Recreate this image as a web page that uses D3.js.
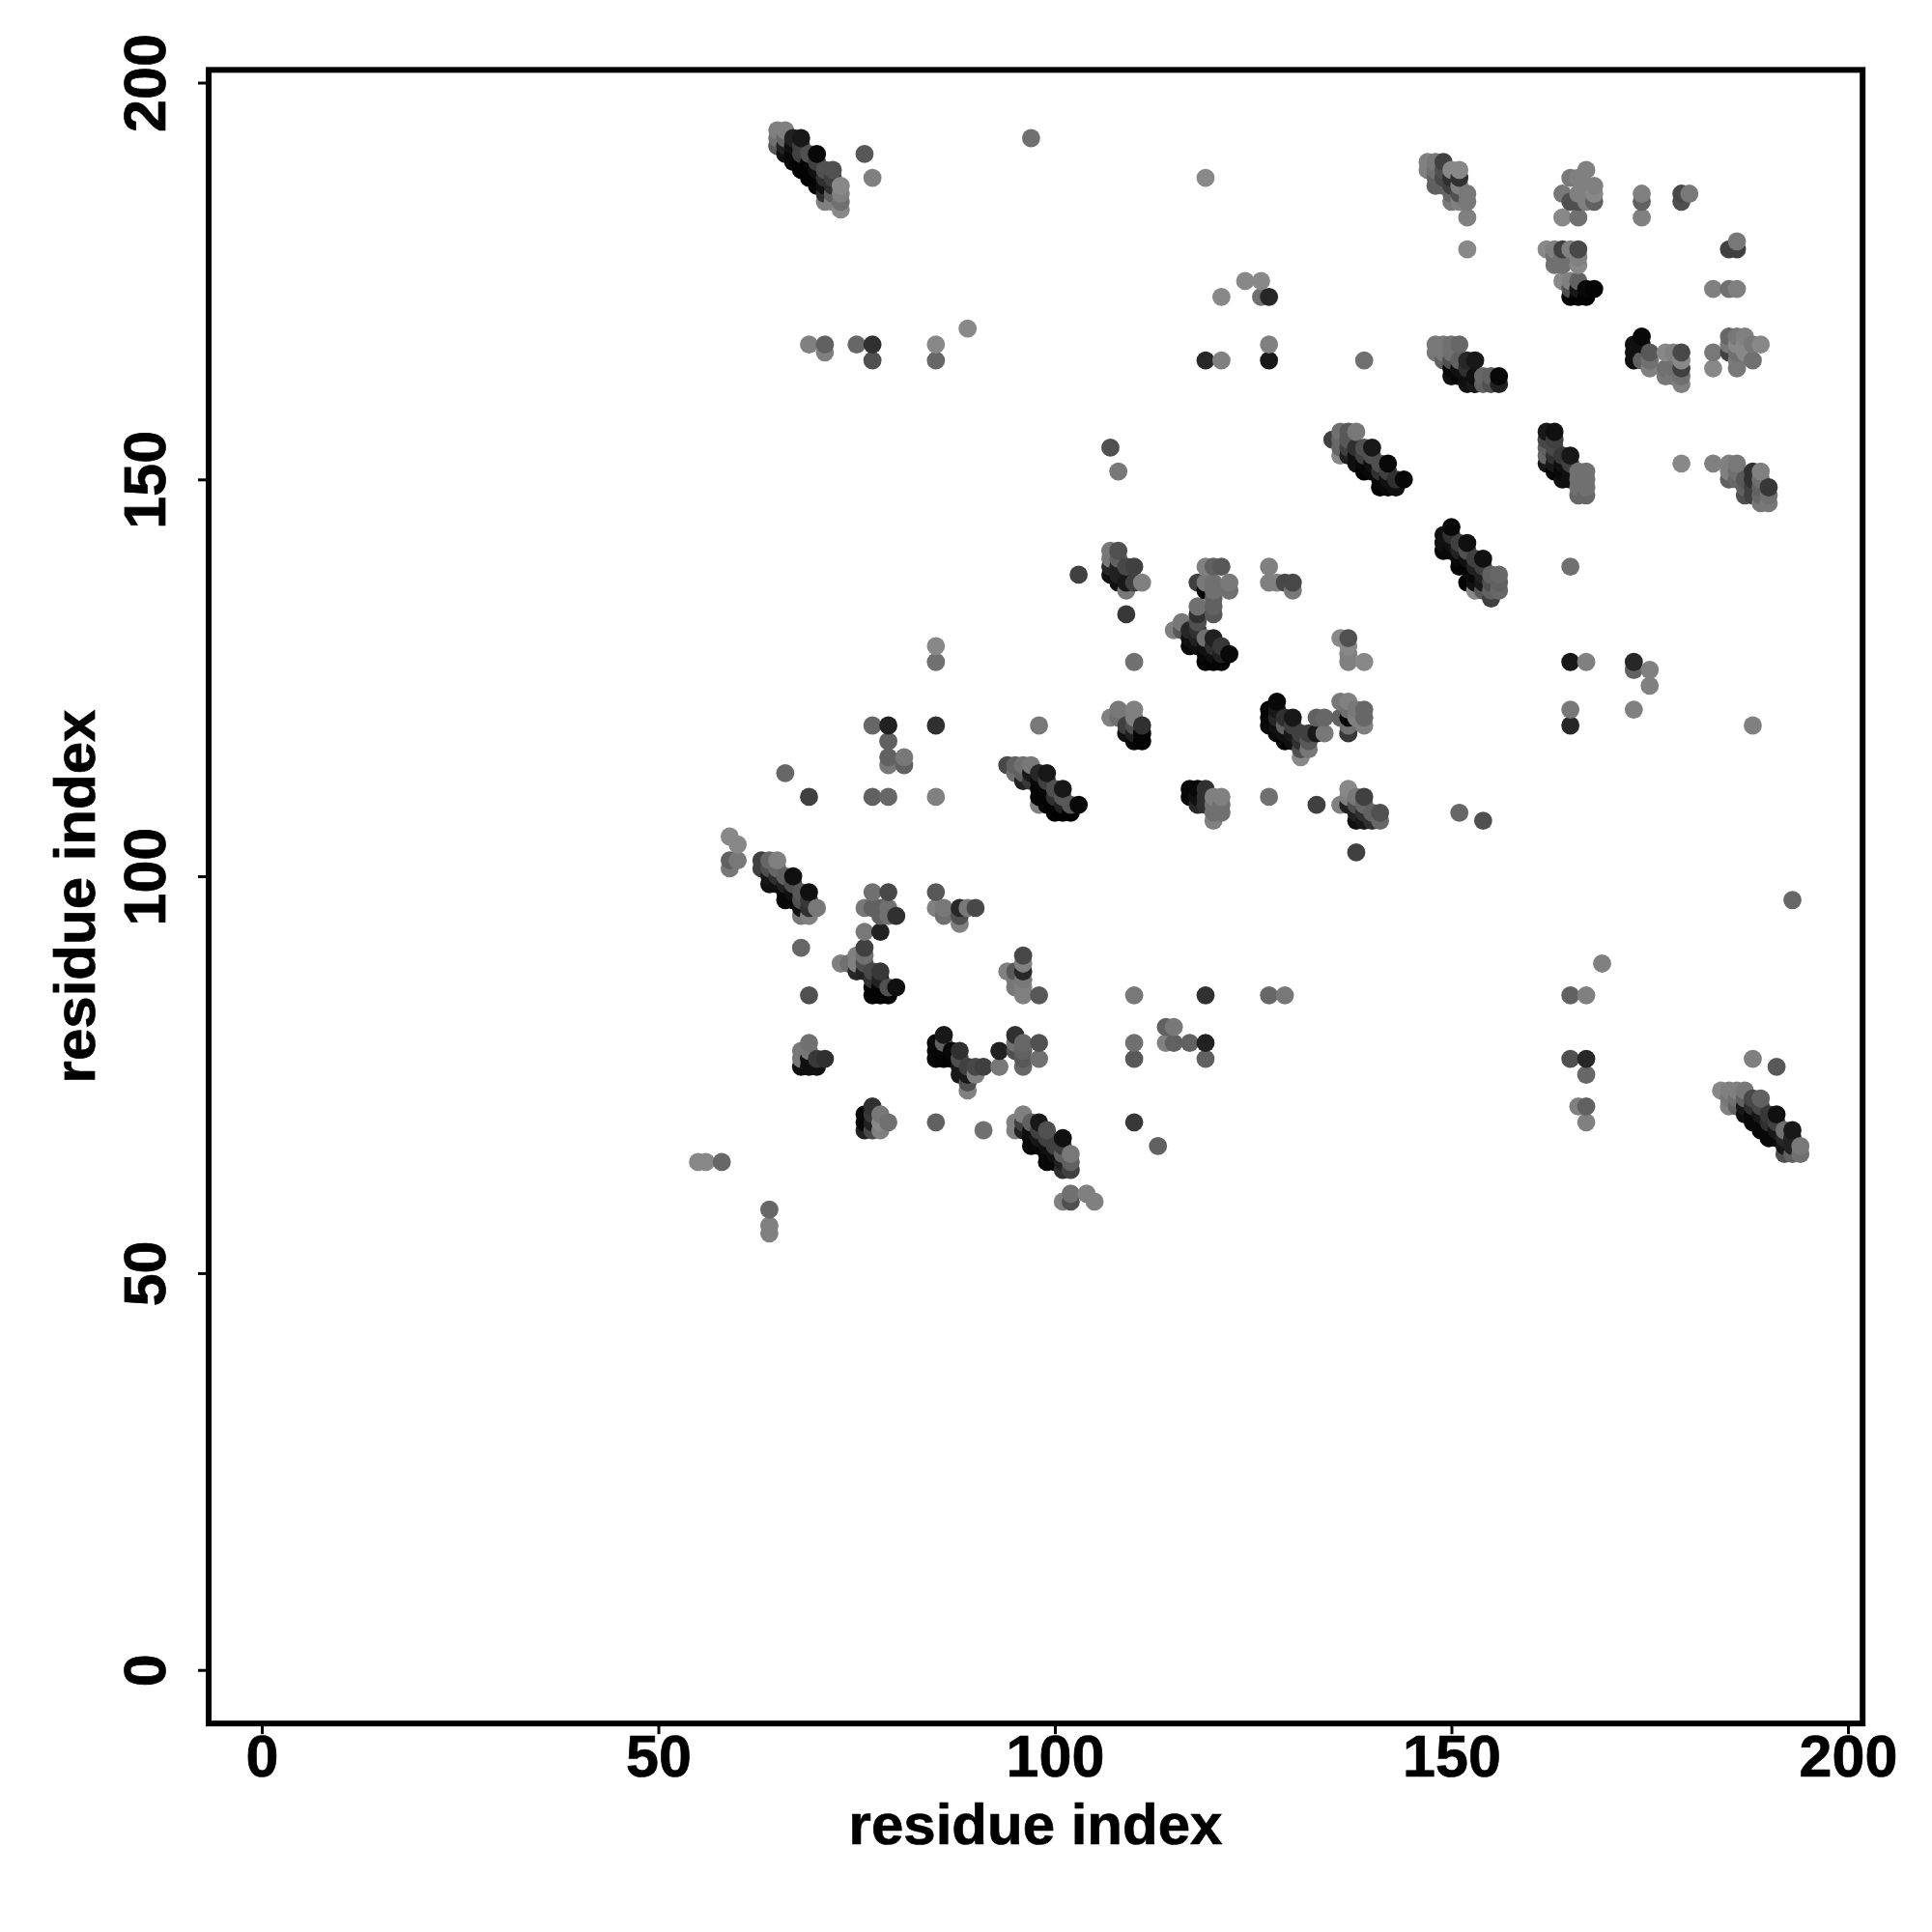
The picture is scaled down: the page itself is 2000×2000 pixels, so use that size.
<!DOCTYPE html>
<html>
<head>
<meta charset="utf-8">
<script src="https://cdn.jsdelivr.net/npm/d3@7"></script>
<style>
  html, body { margin: 0; padding: 0; background: #fff; }
  svg { display: block; }
  text { font-family: "Liberation Sans", Arial, sans-serif; font-weight: bold; fill: #000; stroke: #000; stroke-width: 0.7px; }
</style>
</head>
<body>
<script>
// contacts as [residue i, residue j, score 0-100], grouped by where they sit on the map
const axisTicks = [0, 50, 100, 150, 200];
const axisTitle = "residue index";

const strandTop = [[65,194,6],[66,194,6],[65,193,18],[66,193,24],[65,192,35],[66,192,76],[66,191,88],[67,193,76],[68,193,82],[67,192,88],[67,191,94],[67,190,94],[68,192,53],[68,191,53],[68,190,97],[68,189,97],[69,191,41],[70,191,94],[69,190,97],[69,189,97],[69,188,97],[70,190,53],[70,189,88],[70,188,97],[70,187,94],[71,189,41],[72,189,41],[71,188,65],[71,187,88],[71,186,65],[71,185,6],[72,185,6],[72,186,29],[72,187,65],[72,188,53],[73,187,0],[73,186,6],[73,185,18],[73,184,0]];
const topSingles = [[97,193,18],[76,191,35],[77,188,6],[119,188,0],[69,167,6],[71,167,29],[75,167,24],[77,167,65],[85,167,0],[127,167,6],[71,166,6],[77,165,41],[85,165,24],[119,165,71],[121,165,6],[127,165,82],[89,169,0],[121,173,0],[126,173,18],[127,173,71],[124,175,0],[126,175,0],[107,154,41],[108,151,12],[103,138,53],[139,165,18],[165,139,18]];

const blockA = [[147,190,6],[147,189,6],[148,190,12],[148,189,18],[148,188,29],[148,187,29],[149,190,53],[149,189,41],[149,188,47],[149,187,29],[150,189,0],[150,188,65],[150,187,53],[150,186,24],[150,185,12],[151,189,0],[151,188,65],[151,187,6],[151,186,41],[151,185,6],[152,186,12],[152,185,12],[152,183,6],[152,179,0]];
const blockB = [[167,189,6],[165,188,12],[166,188,6],[168,187,6],[167,187,6],[164,186,12],[165,185,41],[166,186,6],[168,186,0],[168,185,29],[166,185,41],[167,185,6],[164,183,0],[166,183,18],[174,186,6],[174,185,29],[174,183,6],[179,186,47],[179,185,41],[180,186,12]];
const blockC = [[162,179,0],[163,179,6],[164,179,53],[165,179,6],[166,179,47],[163,178,18],[164,178,18],[166,178,6],[163,177,18],[164,177,18],[166,177,0],[164,175,0],[165,175,6],[166,175,29],[165,174,41],[166,174,82],[167,174,94],[168,174,97],[165,173,97],[166,173,97],[167,173,97],[183,174,6],[185,174,18],[186,174,6],[186,180,12],[185,179,53],[186,179,53]];
const blockD = [[148,167,12],[149,167,12],[150,167,18],[151,167,24],[148,166,12],[149,166,12],[150,166,18],[149,165,29],[150,165,41],[151,165,29],[150,164,94],[151,164,88],[152,165,71],[153,165,82],[152,164,65],[150,163,88],[151,163,94],[152,163,88],[153,163,88],[152,162,88],[153,162,82],[154,163,24],[154,162,29],[155,163,29],[155,162,41],[156,163,94],[156,162,76]];
const blockE = [[174,168,94],[173,167,88],[173,166,88],[173,165,88],[174,167,88],[174,165,29],[175,166,35],[175,165,18],[175,164,6],[177,166,0],[178,166,6],[179,166,47],[177,164,18],[177,163,12],[178,164,18],[178,163,12],[179,165,0],[179,164,53],[179,163,18],[179,162,6],[183,166,12],[183,164,0],[185,168,24],[186,168,12],[187,168,6],[185,167,12],[186,167,0],[187,167,0],[188,167,12],[189,167,0],[185,166,53],[186,166,18],[187,166,0],[186,165,12],[186,164,12],[188,165,18]];

const strandG = [[135,155,53],[136,156,18],[137,156,35],[138,156,12],[136,155,24],[137,155,35],[136,154,24],[136,153,0],[137,154,53],[137,153,76],[138,154,65],[138,153,88],[138,152,88],[139,154,41],[139,153,53],[139,152,94],[139,151,97],[140,154,82],[140,153,41],[140,152,88],[140,151,94],[141,152,41],[141,151,65],[141,150,94],[141,149,97],[142,152,94],[142,151,53],[142,150,88],[142,149,94],[143,150,65],[143,149,88],[144,150,94]];
const blockH = [[162,156,82],[163,156,88],[162,155,47],[162,154,29],[162,153,24],[162,152,82],[163,155,53],[163,154,47],[163,153,65],[163,152,82],[163,151,97],[164,153,59],[165,153,82],[164,152,88],[164,151,94],[164,150,88],[165,152,53],[165,151,88],[165,150,88],[166,151,18],[167,151,18],[166,150,18],[167,150,18],[166,149,18],[167,149,18],[166,148,24],[167,148,24]];
const blockI = [[179,152,0],[183,152,6],[185,152,6],[186,152,12],[185,151,6],[186,151,18],[185,150,29],[186,150,24],[187,150,35],[187,149,29],[187,148,41],[188,151,65],[189,151,6],[188,150,65],[189,150,18],[188,149,53],[189,149,29],[188,148,53],[189,148,24],[190,149,59],[189,147,12],[190,148,18],[190,147,12]];
const strandJ = [[149,143,88],[149,142,88],[149,141,94],[150,144,94],[150,143,65],[150,142,88],[150,141,94],[151,142,53],[151,141,76],[151,140,94],[151,139,97],[152,142,88],[152,141,41],[152,140,88],[152,139,97],[152,137,97],[153,140,53],[153,139,76],[153,138,94],[153,136,0],[153,137,88],[154,140,88],[154,139,53],[154,138,76],[154,137,82],[154,136,35],[155,138,29],[155,137,41],[155,136,29],[155,135,53],[156,138,24],[156,137,29],[156,136,24]];

const blockK = [[107,141,12],[108,141,41],[107,140,12],[107,139,71],[107,138,88],[108,140,29],[108,139,76],[108,138,76],[108,137,88],[109,139,47],[110,139,53],[109,137,82],[110,137,53],[111,137,6],[109,136,12],[109,133,59],[110,127,18]];
const blockL = [[119,139,6],[120,139,29],[121,139,35],[118,137,53],[119,137,12],[119,136,97],[120,137,18],[122,137,12],[120,136,18],[120,135,29],[122,136,18],[127,139,6],[127,137,6],[128,137,6],[129,137,47],[130,137,47],[130,136,12],[118,134,18],[120,134,29],[118,133,65],[120,133,35],[118,132,41],[116,132,12],[115,131,6],[116,131,35],[117,131,71],[117,130,88],[118,131,65],[118,130,76],[118,129,88],[117,129,94],[119,130,18],[119,129,88],[119,128,94],[119,127,97],[120,130,76],[120,129,65],[120,128,88],[120,127,97],[121,129,59],[121,128,76],[121,127,97],[122,128,94]];
const blockM = [[85,129,0],[85,127,18],[77,119,24],[79,119,76],[85,119,65],[98,119,12],[79,117,29],[79,115,29],[79,114,12],[81,115,12],[81,114,29],[66,113,24],[69,110,53],[77,110,29],[79,110,24],[85,110,6]];
const blockN = [[107,120,6],[108,121,12],[110,121,6],[108,120,18],[110,120,6],[109,119,53],[110,119,41],[111,119,65],[109,118,88],[110,118,76],[111,118,97],[110,117,94],[111,117,97]];
const strandO = [[94,114,47],[95,114,29],[96,114,18],[97,114,12],[95,113,18],[96,113,29],[97,113,82],[98,113,71],[99,113,82],[96,112,76],[97,112,59],[98,112,94],[98,111,97],[99,112,53],[99,111,94],[100,111,41],[101,111,82],[98,110,97],[99,110,97],[100,110,65],[101,110,35],[98,109,6],[99,109,97],[100,109,97],[101,109,76],[102,109,35],[103,109,94],[100,108,100],[101,108,100],[102,108,100]];
const blockP = [[117,111,94],[118,111,94],[119,111,65],[117,110,94],[118,110,88],[119,110,65],[120,110,6],[121,110,6],[118,109,71],[119,109,65],[120,109,18],[121,109,18],[120,108,18],[121,108,18],[120,107,6],[127,110,18]];
const blockQ = [[127,121,97],[127,120,94],[127,119,94],[128,122,94],[128,121,82],[128,120,71],[128,119,88],[128,118,94],[129,120,65],[129,119,29],[129,118,88],[129,117,97],[130,120,82],[130,119,53],[130,118,82],[130,117,88],[131,118,53],[131,117,65],[131,116,41],[131,115,0],[132,118,53],[132,117,35],[132,116,12],[133,120,29],[133,118,82],[134,120,24],[134,118,12]];
const blockR = [[136,122,12],[137,122,6],[136,120,29],[137,121,18],[137,120,97],[137,119,18],[137,118,59],[138,120,6],[138,121,12],[139,121,24],[139,120,24],[139,119,6],[137,130,41],[136,130,0],[137,129,0],[137,128,6],[137,127,6],[139,127,0],[165,127,82],[167,127,6],[173,127,71],[173,126,29],[175,126,6],[175,124,6],[173,121,6],[165,121,12],[165,119,71],[188,119,6]];
const blockS = [[136,109,6],[137,111,0],[137,110,6],[138,110,12],[139,110,53],[137,109,76],[138,109,41],[139,109,24],[138,108,76],[139,108,65],[138,107,88],[139,107,82],[140,108,29],[141,108,41],[140,107,65],[141,107,24],[133,109,53],[151,108,24],[154,107,41],[138,103,53]];

const leftEdge = [[59,105,0],[60,104,0],[59,102,29],[60,102,12],[59,101,12]];
const strandT = [[63,102,53],[64,102,24],[65,102,6],[63,101,53],[64,101,41],[65,101,24],[64,100,82],[65,100,65],[66,100,29],[67,100,88],[64,99,88],[65,99,88],[66,99,76],[67,99,41],[66,98,94],[67,98,88],[68,98,35],[69,98,88],[66,97,94],[67,97,94],[68,97,41],[69,97,59],[68,96,88],[69,96,65],[70,96,12],[68,95,12],[69,95,6]];
const blockU = [[77,98,18],[79,98,47],[76,96,12],[77,96,29],[78,96,29],[79,96,18],[78,95,29],[79,95,18],[80,95,65],[76,93,12],[78,93,76],[68,91,24],[85,98,35],[85,96,6],[86,96,12],[86,95,18],[88,96,71],[89,96,12],[90,96,47],[88,95,41],[88,94,6]];
const blockV = [[76,91,53],[75,90,6],[76,90,18],[73,89,6],[74,89,18],[75,89,6],[76,89,41],[75,88,71],[76,88,76],[77,88,47],[78,88,59],[77,87,65],[78,87,76],[77,86,97],[78,86,97],[79,86,41],[80,86,88],[77,85,97],[78,85,97],[79,85,97],[69,85,41]];
const blockW = [[96,90,47],[96,89,6],[96,88,71],[94,88,6],[95,88,35],[95,87,12],[96,87,12],[95,86,12],[96,86,6],[96,85,6],[98,85,35],[110,85,12],[119,85,65],[127,85,24],[129,85,12],[165,85,29],[167,85,6],[169,89,6],[193,97,24]];

const blockLow = [[69,79,18],[68,78,12],[68,77,12],[68,76,88],[69,78,12],[69,77,88],[69,76,88],[70,77,59],[70,76,88],[71,77,65]];
const blockMid = [[85,79,94],[85,78,94],[85,77,97],[86,80,82],[86,79,29],[86,78,94],[86,77,97],[87,78,94],[87,77,97],[88,78,65],[88,77,41],[88,76,82],[88,75,82],[89,76,53],[89,75,82],[89,74,41],[89,73,6],[90,76,47],[90,75,6],[91,76,53],[93,78,76],[93,76,12]];
const blockMidRight = [[95,80,65],[95,79,18],[96,79,24],[96,78,29],[98,79,41],[95,78,41],[96,77,35],[98,77,18],[96,76,24],[110,79,18],[110,77,35],[114,81,29],[115,81,12],[114,79,6],[115,79,29],[117,79,29],[119,79,76],[119,77,29],[165,77,41],[167,77,71],[167,75,24],[166,71,6],[167,71,29],[167,69,6],[188,77,6],[191,76,35]];
const blockX = [[77,71,65],[76,70,94],[76,69,94],[76,68,76],[77,70,59],[77,69,76],[78,70,12],[78,69,0],[79,69,18],[77,68,47],[78,68,6],[85,69,29],[91,68,18]];
const strandY = [[95,69,6],[95,68,6],[96,70,6],[96,69,53],[96,68,76],[97,69,29],[97,68,88],[97,67,94],[97,66,94],[98,69,82],[98,68,53],[98,67,82],[98,66,94],[99,68,41],[99,67,53],[99,66,88],[99,65,94],[99,64,94],[100,66,53],[100,65,88],[100,64,94],[101,67,88],[101,66,53],[101,65,29],[101,64,76],[101,63,65],[102,65,12],[102,64,29],[102,63,53],[110,69,59],[113,66,29]];
const farLow = [[55,64,0],[56,64,0],[58,64,24],[64,58,24],[64,56,6],[64,55,6],[101,59,6],[102,60,18],[102,59,41],[104,60,6],[105,59,6]];
const strandZ = [[184,73,0],[185,73,6],[186,73,6],[187,73,12],[185,72,12],[186,72,18],[185,71,6],[186,71,29],[187,72,29],[187,71,82],[187,70,88],[188,72,47],[188,71,65],[188,70,94],[188,69,94],[189,72,29],[189,71,47],[189,70,82],[189,69,94],[189,68,94],[190,70,59],[190,69,65],[190,68,94],[190,67,94],[191,70,88],[191,69,53],[191,68,82],[191,67,94],[192,68,18],[192,67,71],[192,66,82],[192,65,41],[193,68,82],[193,67,76],[193,66,76],[193,65,29],[194,66,12],[194,65,18]];

const contacts = [strandTop, topSingles, blockA, blockB, blockC, blockD, blockE, strandG, blockH, blockI, strandJ,
  blockK, blockL, blockM, blockN, strandO, blockP, blockQ, blockR, blockS, leftEdge, strandT, blockU, blockV, blockW,
  blockLow, blockMid, blockMidRight, blockX, strandY, farLow, strandZ].flat();

// same order as the source plot, later residues are painted over earlier ones
contacts.sort((a, b) => d3.ascending(a[0], b[0]) || d3.ascending(a[1], b[1]));

const size = 2000;
const x = d3.scaleLinear().domain([0, 200]).range([271, 1913]);
const y = d3.scaleLinear().domain([0, 200]).range([1728.7, 85.5]);
const shade = d3.scaleLinear().domain([0, 100]).range([136, 0]);
const pad = { xlo: -6.7, xhi: 201.85, ylo: -6.75, yhi: 201.6 };

const svg = d3.select("body").append("svg")
  .attr("width", size)
  .attr("height", size);

svg.append("g")
  .selectAll("circle")
  .data(contacts)
  .join("circle")
  .attr("cx", d => x(d[0]))
  .attr("cy", d => y(d[1]))
  .attr("r", 9.4)
  .attr("fill", d => { let g = Math.round(shade(d[2])); return d3.rgb(g, g, g); });

svg.append("rect")
  .attr("x", x(pad.xlo))
  .attr("y", y(pad.yhi))
  .attr("width", x(pad.xhi) - x(pad.xlo))
  .attr("height", y(pad.ylo) - y(pad.yhi))
  .attr("fill", "none")
  .attr("stroke", "#000")
  .attr("stroke-width", 6);

let xAxis = svg.append("g")
  .attr("transform", `translate(0,${y(pad.ylo)})`)
  .call(d3.axisBottom(x).tickValues(axisTicks).tickSize(11).tickPadding(0));
xAxis.select(".domain").remove();
xAxis.selectAll("line").attr("stroke", "#000").attr("stroke-width", 3);
xAxis.selectAll("text")
  .attr("y", 55)
  .attr("dy", 0)
  .style("font-size", "61px")
  .style("font-family", '"Liberation Sans"');

let yAxis = svg.append("g")
  .attr("transform", `translate(${x(pad.xlo)},0)`)
  .call(d3.axisLeft(y).tickValues(axisTicks).tickSize(11).tickPadding(0));
yAxis.select(".domain").remove();
yAxis.selectAll("line").attr("stroke", "#000").attr("stroke-width", 3);
yAxis.selectAll("text")
  .attr("x", null).attr("y", null).attr("dy", 0)
  .attr("text-anchor", "middle")
  .attr("transform", "translate(-45,0) rotate(-90)")
  .style("font-size", "61px")
  .style("font-family", '"Liberation Sans"');

svg.append("text")
  .attr("x", 1072)
  .attr("y", 1909)
  .attr("text-anchor", "middle")
  .style("font-size", "60px")
  .text(axisTitle);

svg.append("text")
  .attr("transform", "translate(98,928) rotate(-90)")
  .attr("text-anchor", "middle")
  .style("font-size", "60px")
  .text(axisTitle);
</script>
</body>
</html>
